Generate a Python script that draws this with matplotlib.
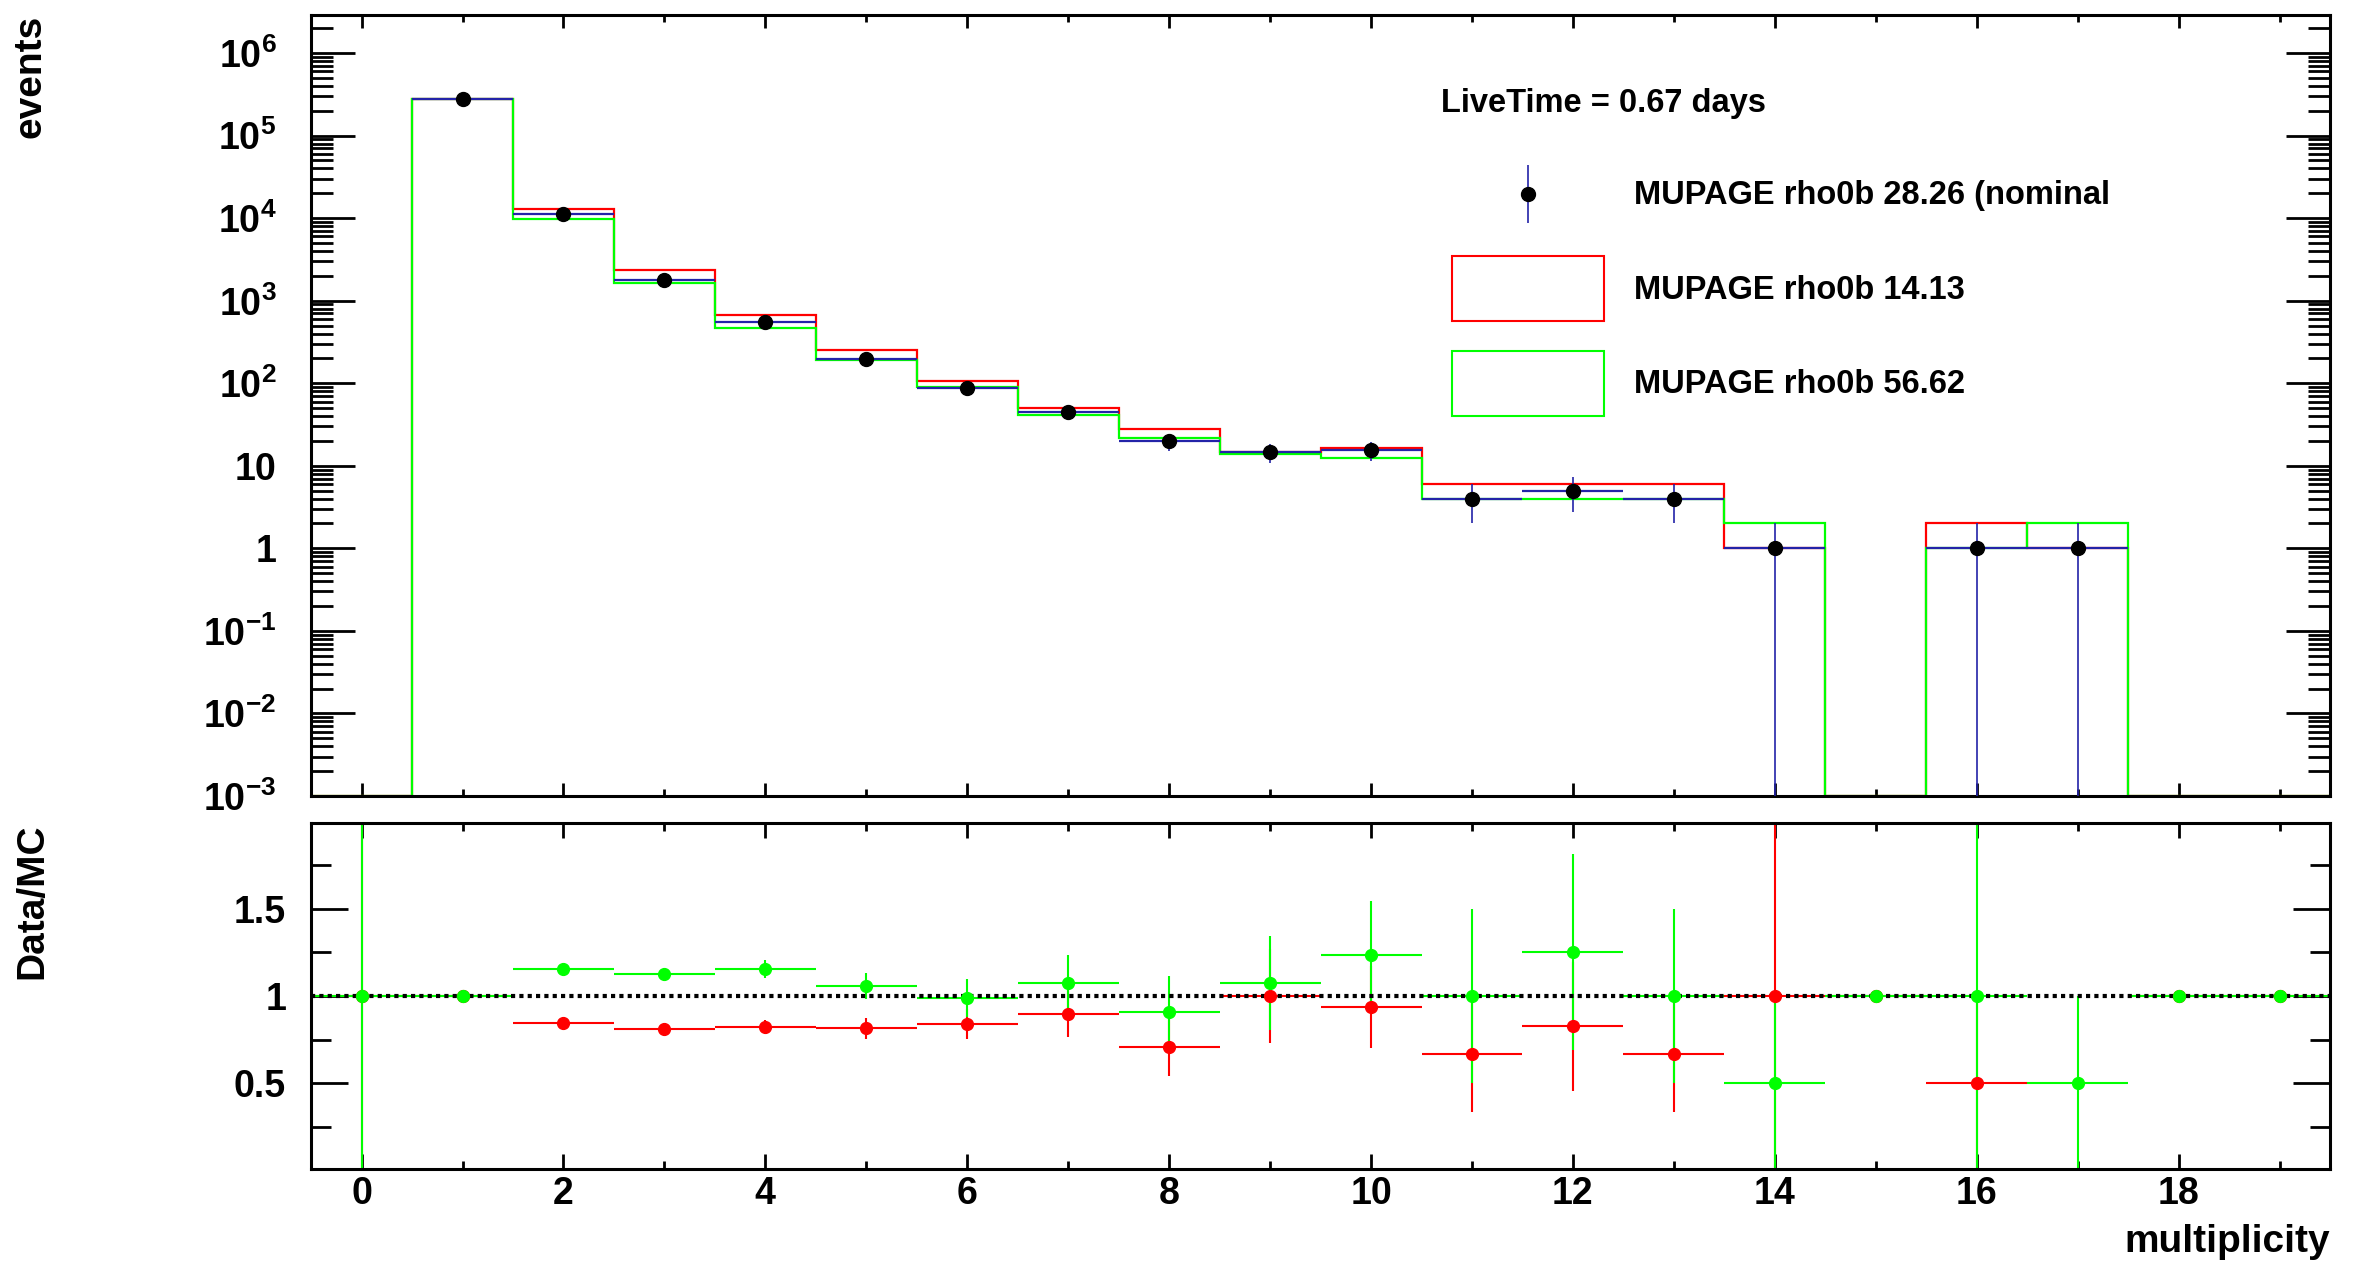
"""Multiplicity distribution of MUPAGE rho0b variants with Data/MC ratio panel."""
import matplotlib
matplotlib.use("Agg")
import matplotlib.pyplot as plt
import numpy as np
from matplotlib.container import ErrorbarContainer
from matplotlib.legend_handler import HandlerErrorbar
from matplotlib.patches import Patch
from matplotlib.ticker import (FixedLocator, FuncFormatter, LogLocator,
                               MultipleLocator, NullFormatter)

plt.rcParams["font.family"] = ["Liberation Sans", "DejaVu Sans"]
plt.rcParams["font.weight"] = "bold"
plt.rcParams["axes.labelweight"] = "bold"
plt.rcParams["mathtext.fontset"] = "custom"
plt.rcParams["mathtext.rm"] = "Liberation Sans:bold"
plt.rcParams["mathtext.bf"] = "Liberation Sans:bold"
plt.rcParams["mathtext.it"] = "Liberation Sans:bold"

# ---- data ----
MULTIPLICITY = np.arange(20)
BIN_EDGES = np.arange(-0.5, 20.0, 1.0)

NOMINAL = np.array([0, 2.8e5, 1.12e4, 1.8e3, 545, 198, 88.5, 44.7, 19.7, 14.7,
                    15.4, 4, 5, 4, 1, 0, 1, 1, 0, 0])
NOMINAL_ERR = np.array([0, 530, 106, 42, 23, 14, 9.4, 6.7, 4.4, 3.8,
                        3.9, 2, 2.24, 2, 1, 0, 1, 1, 0, 0])
RHO_LOW = np.array([0, 2.8e5, 1.29e4, 2.33e3, 667, 252, 107, 49.9, 27.8, 14.7,
                    16.4, 6, 6, 6, 1, 0, 2, 1, 0, 0])
RHO_HIGH = np.array([0, 2.8e5, 9.8e3, 1.65e3, 473, 191, 89.7, 41.5, 21.7, 13.7,
                     12.5, 4, 4, 4, 2, 0, 1, 2, 0, 0])

RATIO_LOW = np.array([1.0, 1.0, 0.848, 0.81, 0.825, 0.815, 0.838, 0.899, 0.707, 1.0,
                      0.935, 0.667, 0.827, 0.667, 1.0, 1.0, 0.5, np.nan, 1.0, 1.0])
RATIO_LOW_ERR = np.array([1.5, 0.004, 0.01, 0.02, 0.035, 0.06, 0.085, 0.135, 0.165, 0.27,
                          0.235, 0.333, 0.37, 0.333, 1.0, 0, 0.5, np.nan, 0, 0])
RATIO_HIGH = np.array([1.0, 1.0, 1.154, 1.126, 1.154, 1.057, 0.987, 1.076, 0.907, 1.076,
                       1.234, 1.0, 1.253, 1.0, 0.5, 1.0, 1.0, 0.5, 1.0, 1.0])
RATIO_HIGH_ERR = np.array([1.5, 0.004, 0.012, 0.028, 0.05, 0.075, 0.11, 0.16, 0.21, 0.27,
                           0.31, 0.5, 0.56, 0.5, 0.5, 0, 1.0, 0.5, 0, 0])

LABEL_NOMINAL = "MUPAGE rho0b 28.26 (nominal"
LABEL_LOW = "MUPAGE rho0b 14.13"
LABEL_HIGH = "MUPAGE rho0b 56.62"
LIVETIME = "LiveTime = 0.67 days"

BLUE = "#2323a8"
RED = "#ff0000"
GREEN = "#00ff00"

Y_MIN, Y_MAX = 1e-3, 2.9e6
FONT_TICK = 27
FONT_LABEL = 28
FONT_LEGEND = 23.5


class CenteredErrorbar(HandlerErrorbar):
    # put the marker in the middle of the (tall) legend box, like ROOT does
    def create_artists(self, legend, orig_handle, xdescent, ydescent, width,
                       height, fontsize, trans):
        return super().create_artists(legend, orig_handle, xdescent, ydescent,
                                      width, height - ydescent, fontsize, trans)


def log_label(v, _pos):
    e = int(round(np.log10(v)))
    if e == 0:
        return "1"
    if e == 1:
        return "10"
    return r"$\mathbf{10^{%d}}$" % e


def style_axes(ax):
    for sp in ax.spines.values():
        sp.set_linewidth(2.2)
    ax.tick_params(which="both", direction="in", top=True, right=True, width=2,
                   labelsize=FONT_TICK)


fig = plt.figure(figsize=(23.55, 12.65), dpi=100)
ax = fig.add_axes([0.1321, 0.3708, 0.8573, 0.6174])
ax2 = fig.add_axes([0.1321, 0.0759, 0.8573, 0.2735])

# ---- top panel ----
ax.stairs(np.maximum(RHO_LOW, Y_MIN), BIN_EDGES, baseline=Y_MIN, color=RED, lw=1.6, zorder=2)
ax.stairs(np.maximum(RHO_HIGH, Y_MIN), BIN_EDGES, baseline=Y_MIN, color=GREEN, lw=1.6, zorder=2.1)

m = NOMINAL > 0
low_err = np.minimum(NOMINAL_ERR[m], NOMINAL[m] - Y_MIN * 0.1)
ax.errorbar(MULTIPLICITY[m], NOMINAL[m], xerr=0.5, fmt="none", ecolor=BLUE,
            elinewidth=1.6, zorder=2.2)
nominal = ax.errorbar(MULTIPLICITY[m], NOMINAL[m], yerr=[low_err, NOMINAL_ERR[m]],
                      fmt="o", color="black", ms=10, ecolor=BLUE, elinewidth=1.2,
                      zorder=3)

ax.set_yscale("log")
ax.set_ylim(Y_MIN, Y_MAX)
ax.set_xlim(BIN_EDGES[0], BIN_EDGES[-1])
ax.yaxis.set_major_locator(LogLocator(base=10, numticks=30))
ax.yaxis.set_minor_locator(LogLocator(base=10, subs=np.arange(2, 10), numticks=100))
ax.yaxis.set_major_formatter(FuncFormatter(log_label))
ax.yaxis.set_minor_formatter(NullFormatter())
ax.xaxis.set_major_locator(MultipleLocator(2))
ax.xaxis.set_minor_locator(MultipleLocator(1))
style_axes(ax)
ax.tick_params(axis="x", labelbottom=False)
ax.tick_params(axis="x", which="major", length=9.5)
ax.tick_params(axis="x", which="minor", length=5)
ax.tick_params(axis="y", which="major", length=32, pad=25)
ax.tick_params(axis="y", which="minor", length=16)

ax.set_ylabel("events", fontsize=FONT_LABEL, loc="top")
ax.yaxis.set_label_coords(-0.139, 1.0)
ax.yaxis.label.set_va("center")

ax.text(0.5597, 0.8867, LIVETIME, transform=ax.transAxes, fontsize=FONT_LEGEND,
        va="center", ha="left")

handles = [nominal,
           Patch(facecolor="none", edgecolor=RED, lw=1.5),
           Patch(facecolor="none", edgecolor=GREEN, lw=1.5)]
ax.legend(handles, [LABEL_NOMINAL, LABEL_LOW, LABEL_HIGH],
          handler_map={ErrorbarContainer: CenteredErrorbar(yerr_size=0.89)},
          loc="upper left", bbox_to_anchor=(0.5651, 0.8118), borderaxespad=0,
          borderpad=0, frameon=False, fontsize=FONT_LEGEND, handlelength=4.66,
          handleheight=2.69, labelspacing=0.9, handletextpad=0.92, numpoints=1)

# ---- ratio panel ----
r = np.isfinite(RATIO_LOW)
ax2.errorbar(MULTIPLICITY[r], RATIO_LOW[r], xerr=0.5, yerr=RATIO_LOW_ERR[r], fmt="none",
             ecolor=RED, elinewidth=1.5, zorder=2)
ax2.errorbar(MULTIPLICITY, RATIO_HIGH, xerr=0.5, yerr=RATIO_HIGH_ERR, fmt="none",
             ecolor=GREEN, elinewidth=1.5, zorder=2.1)
ax2.axhline(1.0, color="black", ls=(0, (1.0, 1.0)), lw=3.0, zorder=2.5)
ax2.plot(MULTIPLICITY[r], RATIO_LOW[r], "o", color=RED, ms=8.5, zorder=3)
ax2.plot(MULTIPLICITY, RATIO_HIGH, "o", color=GREEN, ms=8.5, zorder=3.1)

ax2.set_xlim(BIN_EDGES[0], BIN_EDGES[-1])
ax2.set_ylim(0.01, 1.99)
ax2.yaxis.set_major_locator(FixedLocator([0.5, 1.0, 1.5]))
ax2.yaxis.set_minor_locator(FixedLocator([0.25, 0.75, 1.25, 1.75]))
ax2.yaxis.set_major_formatter(FuncFormatter(lambda v, _p: f"{v:g}"))
ax2.xaxis.set_major_locator(MultipleLocator(2))
ax2.xaxis.set_minor_locator(MultipleLocator(1))
style_axes(ax2)
ax2.tick_params(axis="x", which="major", length=11, pad=5)
ax2.tick_params(axis="x", which="minor", length=6)
ax2.tick_params(axis="y", which="major", length=26.5, pad=18)
ax2.tick_params(axis="y", which="minor", length=14.5)

ax2.set_ylabel("Data/MC", fontsize=FONT_LABEL, loc="top")
ax2.yaxis.set_label_coords(-0.138, 1.0)
ax2.yaxis.label.set_va("center")
ax2.set_xlabel("multiplicity", fontsize=FONT_LABEL, loc="right")
ax2.xaxis.set_label_coords(1.0, -0.21)
ax2.xaxis.label.set_va("center")

fig.savefig("out.png", dpi=100)
